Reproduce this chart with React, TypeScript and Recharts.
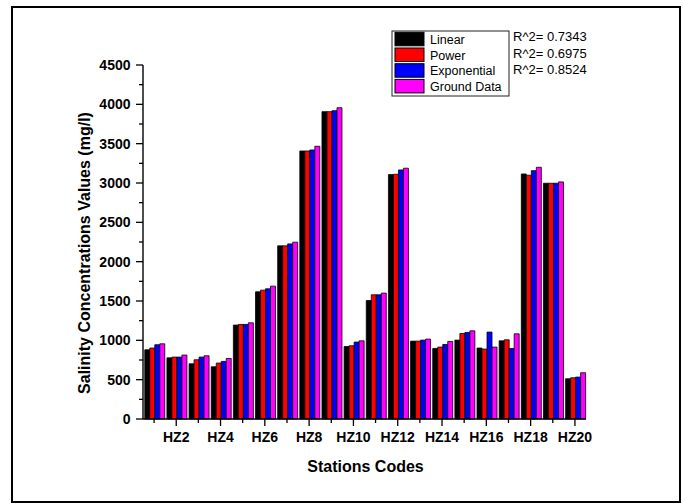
import { BarChart, Bar, XAxis, YAxis, Legend } from 'recharts';

const stations = [
  'HZ1', 'HZ2', 'HZ3', 'HZ4', 'HZ5', 'HZ6', 'HZ7', 'HZ8', 'HZ9', 'HZ10',
  'HZ11', 'HZ12', 'HZ13', 'HZ14', 'HZ15', 'HZ16', 'HZ17', 'HZ18', 'HZ19', 'HZ20',
];
const linear = [880, 778, 702, 664, 1194, 1617, 2201, 3407, 3907, 922, 1506, 3107, 990, 897, 1003, 902, 994, 3115, 2997, 512];
const power = [902, 787, 753, 711, 1202, 1638, 2201, 3407, 3907, 931, 1579, 3111, 990, 914, 1087, 889, 1007, 3099, 2997, 524];
const exponential = [944, 787, 787, 732, 1202, 1655, 2226, 3420, 3919, 978, 1579, 3166, 1003, 947, 1100, 1105, 897, 3157, 2997, 533];
const ground = [956, 813, 804, 770, 1223, 1689, 2248, 3467, 3957, 994, 1600, 3188, 1016, 986, 1121, 914, 1083, 3200, 3014, 588];

const yTicks = [0, 250, 500, 750, 1000, 1250, 1500, 1750, 2000, 2250, 2500, 2750, 3000, 3250, 3500, 3750, 4000, 4250, 4500];
const rSquared = ['R^2= 0.7343', 'R^2= 0.6975', 'R^2= 0.8524'];

const series = [
  { key: 'linear', name: 'Linear', color: '#000000' },
  { key: 'power', name: 'Power', color: '#ff0000' },
  { key: 'exponential', name: 'Exponential', color: '#0000ff' },
  { key: 'ground', name: 'Ground Data', color: '#ff00ff' },
];

const data = stations.map((station, i) => ({
  station,
  linear: linear[i],
  power: power[i],
  exponential: exponential[i],
  ground: ground[i],
}));

const FONT = '"Liberation Sans", Arial, Helvetica, sans-serif';

function StationTick({ x, y, payload }: any) {
  const major = stations.indexOf(payload.value) % 2 === 1;
  return (
    <g>
      <line x1={x} x2={x} y1={y} y2={y + (major ? 7 : 4)} stroke="#000" strokeWidth={1.3} />
      {major && (
        <text x={x} y={y + 23} textAnchor="middle" fontFamily={FONT} fontWeight="bold" fontSize={14} fill="#000">
          {payload.value}
        </text>
      )}
    </g>
  );
}

function ValueTick({ x, y, payload }: any) {
  const major = payload.value % 500 === 0;
  return (
    <g>
      <line x1={x - (major ? 7 : 4)} x2={x} y1={y} y2={y} stroke="#000" strokeWidth={1.3} />
      {major && (
        <text x={x - 12.5} y={y} dy="0.35em" textAnchor="end" fontFamily={FONT} fontWeight="bold" fontSize={14} fill="#000">
          {payload.value}
        </text>
      )}
    </g>
  );
}

function LegendBox() {
  return (
    <svg width={200} height={72} style={{ display: 'block', overflow: 'visible' }}>
      <rect x={1} y={1} width={117} height={65} fill="#fff" stroke="#222" strokeWidth={1} />
      {series.map((s, i) => (
        <g key={s.key}>
          <rect x={4} y={2.3 + 15.7 * i} width={29} height={13.5} fill={s.color} stroke="#000" strokeWidth={1} />
          <text x={39} y={14 + 15.6 * i} fontFamily={FONT} fontSize={12.5} fill="#000">
            {s.name}
          </text>
        </g>
      ))}
      {rSquared.map((t, i) => (
        <text key={t} x={122} y={11 + 16.5 * i} fontFamily={FONT} fontSize={13} fill="#000">
          {t}
        </text>
      ))}
    </svg>
  );
}

export default function App() {
  return (
    <div style={{ position: 'absolute', left: 0, top: 0, width: 683, height: 504, background: '#fff' }}>
      <div
        style={{
          position: 'absolute',
          left: 11,
          top: 6,
          width: 670,
          height: 497,
          border: '2px solid #000',
          boxSizing: 'border-box',
          pointerEvents: 'none',
        }}
      />
      <BarChart
        width={683}
        height={504}
        data={data}
        margin={{ top: 65, right: 97, bottom: 55, left: 83 }}
        barCategoryGap="8%"
        barGap={0}
      >
        <XAxis
          dataKey="station"
          type="category"
          height={30}
          interval={0}
          tickSize={0}
          tickMargin={0}
          tickLine={false}
          tick={<StationTick />}
          axisLine={{ stroke: '#000', strokeWidth: 1.4 }}
          label={(p: any) => {
            const vb = p.viewBox;
            return (
              <text x={vb.x + vb.width / 2 + 1} y={vb.y + 53} textAnchor="middle" fontFamily={FONT} fontWeight="bold" fontSize={16} fill="#000">
                Stations Codes
              </text>
            );
          }}
        />
        <YAxis
          width={60}
          domain={[0, 4500]}
          ticks={yTicks}
          interval={0}
          tickSize={0}
          tickMargin={0}
          tickLine={false}
          tick={<ValueTick />}
          axisLine={{ stroke: '#000', strokeWidth: 1.4 }}
          label={(p: any) => {
            const vb = p.viewBox;
            const cx = vb.x + 6.5;
            const cy = vb.y + vb.height / 2 + 11;
            return (
              <text x={cx} y={cy} transform={`rotate(-90, ${cx}, ${cy})`} textAnchor="middle" fontFamily={FONT} fontWeight="bold" fontSize={16} fill="#000">
                Salinity Concentrations Values (mg/l)
              </text>
            );
          }}
        />
        <Legend
          layout="horizontal"
          align="center"
          verticalAlign="middle"
          content={<LegendBox />}
          wrapperStyle={{ position: 'absolute', left: 391, top: 30, width: 200, height: 72 }}
        />
        {series.map((s) => (
          <Bar key={s.key} dataKey={s.key} name={s.name} fill={s.color} stroke="#000" strokeWidth={0.8} isAnimationActive={false} />
        ))}
      </BarChart>
    </div>
  );
}
